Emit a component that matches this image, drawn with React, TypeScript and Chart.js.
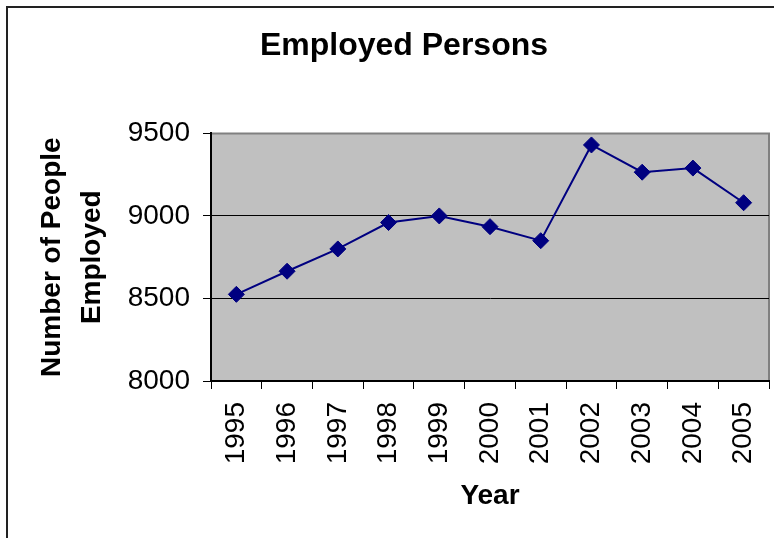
import React, { useEffect, useRef } from "react";
import { Chart, registerables } from "chart.js";

Chart.register(...registerables);

const years: string[] = ["1995", "1996", "1997", "1998", "1999", "2000", "2001", "2002", "2003", "2004", "2005"];
const employed: number[] = [8525, 8665, 8800, 8960, 9000, 8935, 8850, 9430, 9265, 9290, 9080];
const yMin = 8000;
const yMax = 9500;
const yStep = 500;

const chartTitle = "Employed Persons";
const xTitle = "Year";
const yTitle: string[] = ["Number of People", "Employed"];

const FONT = "'Liberation Sans', Arial, Helvetica, sans-serif";

const framePlugin = {
  id: "frame",
  beforeDraw(chart: any) {
    const { ctx, chartArea } = chart;
    const { left, top, right, bottom } = chartArea;
    ctx.save();
    // outer frame (top & left visible)
    ctx.strokeStyle = "#222";
    ctx.lineWidth = 2;
    ctx.beginPath();
    ctx.moveTo(7, chart.height);
    ctx.lineTo(7, 7);
    ctx.lineTo(chart.width, 7);
    ctx.stroke();
    // plot background
    ctx.fillStyle = "#C0C0C0";
    ctx.fillRect(left, top, right - left, bottom - top);
    // gray top/right plot border
    ctx.strokeStyle = "#808080";
    ctx.lineWidth = 2;
    ctx.beginPath();
    ctx.moveTo(left, top);
    ctx.lineTo(right, top);
    ctx.lineTo(right, bottom);
    ctx.stroke();
    ctx.restore();
  },
};

export default function App() {
  const ref = useRef<HTMLCanvasElement | null>(null);
  useEffect(() => {
    if (!ref.current) return;
    const chart = new Chart(ref.current, {
      type: "line",
      data: {
        labels: years,
        datasets: [
          {
            label: "Employed",
            data: employed,
            borderColor: "#000080",
            backgroundColor: "#000080",
            borderWidth: 2,
            pointStyle: "rectRot",
            pointRadius: 8,
            pointBorderWidth: 1,
            pointBackgroundColor: "#000080",
            pointBorderColor: "#000080",
            tension: 0,
            fill: false,
          },
        ],
      },
      options: {
        responsive: false,
        animation: false,
        layout: { autoPadding: false, padding: { left: 39, right: 5, top: 0, bottom: 0 } },
        plugins: {
          legend: { display: false },
          tooltip: { enabled: false },
          title: {
            display: true,
            text: chartTitle,
            color: "#000",
            font: { family: FONT, size: 32, weight: "bold", lineHeight: 1.2 },
            padding: { top: 27, bottom: 68 },
          },
        },
        scales: {
          x: {
            type: "category",
            offset: true,
            afterFit: (scale: any) => {
              scale.height = 157;
              scale.paddingLeft = 0;
              scale.paddingRight = 0;
            },
            grid: {
              offset: true,
              drawOnChartArea: false,
              drawTicks: true,
              tickLength: 8,
              tickColor: "#000",
              color: "#000",
            },
            border: { color: "#000", width: 2 },
            ticks: {
              autoSkip: false,
              minRotation: 90,
              maxRotation: 90,
              padding: 13,
              color: "#000",
              font: { family: FONT, size: 28 },
            },
            title: {
              display: true,
              text: xTitle,
              color: "#000",
              font: { family: FONT, size: 28, weight: "bold", lineHeight: 1.2 },
              padding: { top: 0, bottom: 25 },
            },
          },
          y: {
            min: yMin,
            max: yMax,
            afterFit: (scale: any) => {
              scale.width = 172;
            },
            ticks: {
              stepSize: yStep,
              padding: 13,
              color: "#000",
              font: { family: FONT, size: 28 },
              callback: (value: any) => String(value),
            },
            grid: {
              drawTicks: true,
              tickLength: 8,
              tickColor: "#000",
              lineWidth: 1,
              color: (ctx: any) => (ctx.tick && ctx.tick.value === yMax ? "rgba(0,0,0,0)" : "#000"),
            },
            border: { color: "#000", width: 2 },
            title: {
              display: true,
              text: yTitle,
              color: "#000",
              font: { family: FONT, size: 28, weight: "bold", lineHeight: 1.43 },
              padding: { top: -7, bottom: 0 },
            },
          },
        },
      },
      plugins: [framePlugin],
    });
    return () => chart.destroy();
  }, []);

  return (
    <canvas
      ref={ref}
      width={774}
      height={538}
      style={{ position: "absolute", left: 0, top: 0, width: "774px", height: "538px", display: "block" }}
    />
  );
}
